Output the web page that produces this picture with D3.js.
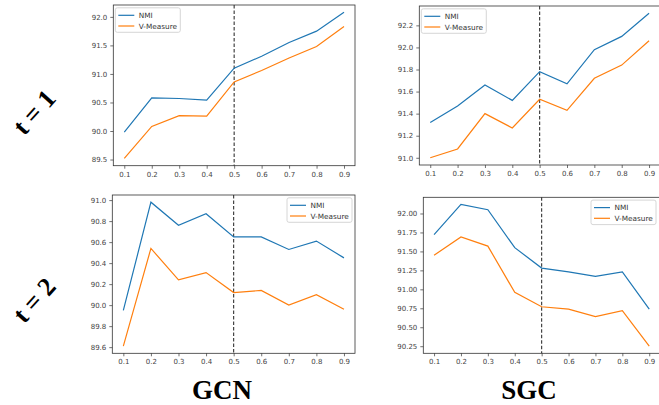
<!DOCTYPE html>
<html><head><meta charset="utf-8">
<script src="https://cdn.jsdelivr.net/npm/d3@7"></script>
<style>
html,body{margin:0;padding:0;background:#fff;overflow:hidden}
svg{display:block}
</style></head>
<body>
<svg id="chart" width="659" height="405"></svg>
<script>
const ratios = [0.1,0.2,0.3,0.4,0.5,0.6,0.7,0.8,0.9];
const xTickLabels = ["0.1","0.2","0.3","0.4","0.5","0.6","0.7","0.8","0.9"];
const seriesNames = ["NMI","V-Measure"];
const colors = ["#1f77b4","#ff7f0e"];
const splitPoint = 0.5;

// GCN, t = 1
const gcnT1NMI = [89.98,90.58,90.57,90.54,91.10,91.31,91.55,91.75,92.08];
const gcnT1VM  = [89.52,90.08,90.27,90.26,90.86,91.06,91.28,91.48,91.83];
// SGC, t = 1
const sgcT1NMI = [91.32,91.47,91.66,91.52,91.78,91.67,91.98,92.10,92.31];
const sgcT1VM  = [91.00,91.08,91.40,91.27,91.53,91.43,91.72,91.84,92.06];
// GCN, t = 2
const gcnT2NMI = [89.95,90.98,90.76,90.87,90.65,90.65,90.53,90.61,90.45];
const gcnT2VM  = [89.61,90.54,90.24,90.31,90.12,90.14,90.00,90.10,89.96];
// SGC, t = 2
const sgcT2NMI = [91.72,92.12,92.05,91.55,91.28,91.23,91.17,91.23,90.74];
const sgcT2VM  = [91.45,91.69,91.57,90.96,90.77,90.74,90.64,90.72,90.25];

const yTicksGcnT1 = [89.5,90.0,90.5,91.0,91.5,92.0];
const yTicksSgcT1 = [91.0,91.2,91.4,91.6,91.8,92.0,92.2];
const yTicksGcnT2 = [89.6,89.8,90.0,90.2,90.4,90.6,90.8,91.0];
const yTicksSgcT2 = [90.25,90.50,90.75,91.00,91.25,91.50,91.75,92.00];

const rowLabels = ["t = 1","t = 2"];
const colLabels = ["GCN","SGC"];

const svg = d3.select("#chart");

const panels = [
  {box:{l:113.3,r:355,t:5,b:165.7}, nmi:gcnT1NMI, vm:gcnT1VM, yt:yTicksGcnT1, fmt:".1f", legend:"left"},
  {box:{l:419.3,r:660,t:6,b:165}, nmi:sgcT1NMI, vm:sgcT1VM, yt:yTicksSgcT1, fmt:".1f", legend:"left"},
  {box:{l:112.3,r:355,t:195,b:353.3}, nmi:gcnT2NMI, vm:gcnT2VM, yt:yTicksGcnT2, fmt:".1f", legend:"right"},
  {box:{l:423.3,r:660,t:197.3,b:353.3}, nmi:sgcT2NMI, vm:sgcT2VM, yt:yTicksSgcT2, fmt:".2f", legend:"right"}
];

const tickFont = "DejaVu Sans, sans-serif";

panels.forEach(p => {
  const B = p.box;
  const xr = d3.extent(ratios), xp = (xr[1]-xr[0])*0.05;
  const all = p.nmi.concat(p.vm);
  const yr = d3.extent(all), yp = (yr[1]-yr[0])*0.05;
  const x = d3.scaleLinear().domain([xr[0]-xp, xr[1]+xp]).range([B.l, B.r]);
  const y = d3.scaleLinear().domain([yr[0]-yp, yr[1]+yp]).range([B.b, B.t]);
  const g = svg.append("g");

  // frame
  g.append("rect").attr("x",B.l).attr("y",B.t).attr("width",B.r-B.l).attr("height",B.b-B.t)
    .attr("fill","none").attr("stroke","#333").attr("stroke-width",0.8);

  // axes
  const xAxis = d3.axisBottom(x).tickValues(ratios).tickFormat((d,i)=>xTickLabels[i]).tickSize(3).tickPadding(3);
  const gx = g.append("g").attr("transform",`translate(0,${B.b})`).call(xAxis);
  const yAxis = d3.axisLeft(y).tickValues(p.yt).tickFormat(d3.format(p.fmt)).tickSize(3).tickPadding(3);
  const gy = g.append("g").attr("transform",`translate(${B.l},0)`).call(yAxis);
  [gx,gy].forEach(a=>{
    a.select(".domain").remove();
    a.selectAll(".tick line").attr("stroke","#333").attr("stroke-width",0.7);
    a.selectAll(".tick text").attr("fill","#444").style("font-family",tickFont).style("font-size","7px");
  });

  // dashed vertical line
  g.append("line").attr("x1",x(splitPoint)).attr("x2",x(splitPoint)).attr("y1",B.t).attr("y2",B.b)
    .attr("stroke","#333").attr("stroke-width",1.1).attr("stroke-dasharray","3.5,2");

  const line = d3.line().x((d,i)=>x(ratios[i])).y(d=>y(d));
  [p.nmi,p.vm].forEach((s,k)=>{
    g.append("path").datum(s).attr("d",line).attr("fill","none")
      .attr("stroke",colors[k]).attr("stroke-width",1.2);
  });

  // legend
  const lw = 65, lh = 24.5;
  const lx = p.legend==="left" ? B.l+2 : Math.min(B.r,659)-lw-3;
  const ly = B.t+2.8;
  const lg = g.append("g");
  lg.append("rect").attr("x",lx).attr("y",ly).attr("width",lw).attr("height",lh).attr("rx",2)
    .attr("fill","#fff").attr("fill-opacity",0.8).attr("stroke","#ccc").attr("stroke-width",0.8);
  seriesNames.forEach((n,k)=>{
    const yy = ly+7.5+k*10.7;
    lg.append("line").attr("x1",lx+3).attr("x2",lx+19).attr("y1",yy).attr("y2",yy)
      .attr("stroke",colors[k]).attr("stroke-width",1.2);
    lg.append("text").attr("x",lx+23.5).attr("y",yy).attr("dy","0.35em").text(n)
      .attr("fill","#333").style("font-family",tickFont).style("font-size","7.3px");
  });
});

// row labels
const rowY = [112, 300];
rowLabels.forEach((t,i)=>{
  svg.append("text").attr("transform",`translate(34,${rowY[i]}) rotate(-48)`)
    .attr("text-anchor","middle").attr("dy","0.35em").text(t)
    .style("font-family","Liberation Serif, serif").style("font-weight","bold").style("font-size","26px")
    .attr("fill","#000");
});
// column labels
const colX = [222, 529];
colLabels.forEach((t,i)=>{
  svg.append("text").attr("x",colX[i]).attr("y",399).attr("text-anchor","middle").text(t)
    .style("font-family","Liberation Serif, serif").style("font-weight","bold").style("font-size","27px")
    .attr("fill","#000");
});
</script>
</body></html>
